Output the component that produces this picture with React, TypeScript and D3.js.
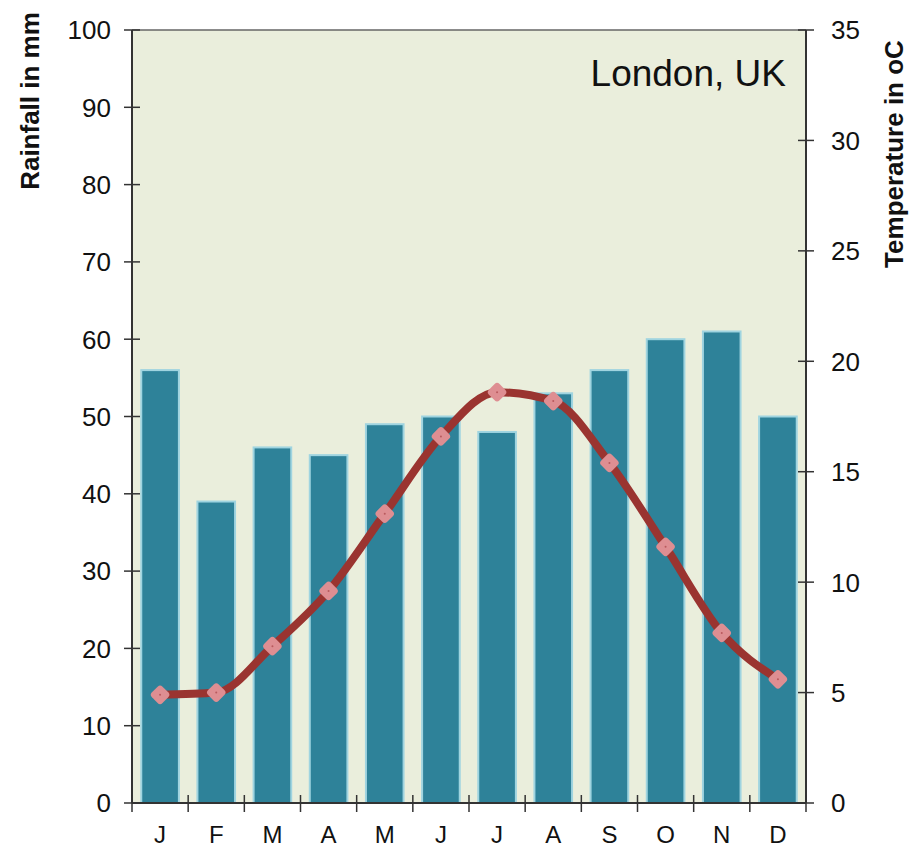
import * as d3 from "d3";
import { useEffect, useRef } from "react";

const months = ["J", "F", "M", "A", "M", "J", "J", "A", "S", "O", "N", "D"];
const rainfall = [56, 39, 46, 45, 49, 50, 48, 53, 56, 60, 61, 50];
const temperature = [4.9, 5.0, 7.1, 9.6, 13.1, 16.6, 18.6, 18.2, 15.4, 11.6, 7.7, 5.6];
const rainTicks = [0, 10, 20, 30, 40, 50, 60, 70, 80, 90, 100];
const tempTicks = [0, 5, 10, 15, 20, 25, 30, 35];

const width = 919;
const height = 848;
const margin = { top: 30, right: 113, bottom: 45, left: 132 };

const App = () => {
  const svgRef = useRef(null);

  useEffect(() => {
    const root = d3.select(svgRef.current);
    root.selectAll("*").remove();

    const innerW = width - margin.left - margin.right;
    const innerH = height - margin.top - margin.bottom;
    const font = "Liberation Sans, Arial, sans-serif";

    const svg = root
      .append("g")
      .attr("transform", `translate(${margin.left}, ${margin.top})`);

    // scales
    const x = d3
      .scaleBand()
      .domain(months.map((_, i) => String(i)))
      .range([0, innerW])
      .paddingInner(0.33)
      .paddingOuter(0.165);
    const xStep = innerW / months.length;
    const yRain = d3.scaleLinear().domain([0, 100]).range([innerH, 0]);
    const yTemp = d3.scaleLinear().domain([0, 35]).range([innerH, 0]);

    // plot background
    svg
      .append("rect")
      .attr("width", innerW)
      .attr("height", innerH)
      .attr("fill", "#eaeedc");

    // bars
    svg
      .selectAll(".bar")
      .data(rainfall)
      .enter()
      .append("rect")
      .attr("class", "bar")
      .attr("x", (_, i) => x(String(i)))
      .attr("y", (d) => yRain(d))
      .attr("width", x.bandwidth())
      .attr("height", (d) => innerH - yRain(d))
      .attr("fill", "#2e8299")
      .attr("stroke", "#9fd4e0")
      .attr("stroke-width", 2);

    // top border
    svg
      .append("line")
      .attr("x1", 0)
      .attr("x2", innerW)
      .attr("y1", 0)
      .attr("y2", 0)
      .attr("stroke", "#666")
      .attr("stroke-width", 1.5);

    // left axis
    const left = svg.append("g");
    left
      .append("line")
      .attr("y1", 0)
      .attr("y2", innerH)
      .attr("stroke", "#333")
      .attr("stroke-width", 2);
    left
      .selectAll("line.tick")
      .data(rainTicks)
      .enter()
      .append("line")
      .attr("class", "tick")
      .attr("x1", -8)
      .attr("x2", 8)
      .attr("y1", (d) => yRain(d))
      .attr("y2", (d) => yRain(d))
      .attr("stroke", "#333")
      .attr("stroke-width", 1.5);
    left
      .selectAll("text")
      .data(rainTicks)
      .enter()
      .append("text")
      .attr("x", -21)
      .attr("y", (d) => yRain(d))
      .attr("dy", "0.36em")
      .attr("text-anchor", "end")
      .attr("font-family", font)
      .attr("font-size", 26)
      .attr("fill", "#111")
      .text((d) => d);

    // right axis
    const right = svg.append("g").attr("transform", `translate(${innerW}, 0)`);
    right
      .append("line")
      .attr("y1", 0)
      .attr("y2", innerH)
      .attr("stroke", "#333")
      .attr("stroke-width", 2);
    right
      .selectAll("line.tick")
      .data(tempTicks)
      .enter()
      .append("line")
      .attr("class", "tick")
      .attr("x1", -8)
      .attr("x2", 8)
      .attr("y1", (d) => yTemp(d))
      .attr("y2", (d) => yTemp(d))
      .attr("stroke", "#333")
      .attr("stroke-width", 1.5);
    right
      .selectAll("text")
      .data(tempTicks)
      .enter()
      .append("text")
      .attr("x", 25)
      .attr("y", (d) => yTemp(d))
      .attr("dy", "0.36em")
      .attr("font-family", font)
      .attr("font-size", 26)
      .attr("fill", "#111")
      .text((d) => d);

    // bottom axis
    const bottom = svg.append("g").attr("transform", `translate(0, ${innerH})`);
    bottom
      .append("line")
      .attr("x1", 0)
      .attr("x2", innerW)
      .attr("stroke", "#333")
      .attr("stroke-width", 2);
    bottom
      .selectAll("line.tick")
      .data(d3.range(months.length + 1))
      .enter()
      .append("line")
      .attr("class", "tick")
      .attr("x1", (d) => d * xStep)
      .attr("x2", (d) => d * xStep)
      .attr("y1", -8)
      .attr("y2", 9)
      .attr("stroke", "#333")
      .attr("stroke-width", 1.5);
    bottom
      .selectAll("text")
      .data(months)
      .enter()
      .append("text")
      .attr("x", (_, i) => x(String(i)) + x.bandwidth() / 2)
      .attr("y", 40)
      .attr("text-anchor", "middle")
      .attr("font-family", font)
      .attr("font-size", 24)
      .attr("fill", "#111")
      .text((d) => d);

    // temperature line
    const cx = (i) => x(String(i)) + x.bandwidth() / 2;
    const line = d3
      .line()
      .x((_, i) => cx(i))
      .y((d) => yTemp(d))
      .curve(d3.curveMonotoneX);
    svg
      .append("path")
      .datum(temperature)
      .attr("d", line)
      .attr("fill", "none")
      .attr("stroke", "#9a3430")
      .attr("stroke-width", 8)
      .attr("stroke-linejoin", "round");

    // markers
    svg
      .selectAll(".marker")
      .data(temperature)
      .enter()
      .append("rect")
      .attr("class", "marker")
      .attr("x", -7.5)
      .attr("y", -7.5)
      .attr("width", 15)
      .attr("height", 15)
      .attr("rx", 3.5)
      .attr("fill", "#de8e92")
      .attr("transform", (d, i) => `translate(${cx(i)}, ${yTemp(d)}) rotate(45)`);
    svg
      .selectAll(".dot")
      .data(temperature)
      .enter()
      .append("circle")
      .attr("cx", (_, i) => cx(i))
      .attr("cy", (d) => yTemp(d))
      .attr("r", 1)
      .attr("fill", "#b85a5e");

    // title
    svg
      .append("text")
      .attr("x", innerW - 20)
      .attr("y", 56)
      .attr("text-anchor", "end")
      .attr("font-family", font)
      .attr("font-size", 37)
      .attr("fill", "#111")
      .text("London, UK");

    // axis titles
    root
      .append("text")
      .attr("transform", `translate(39, 101) rotate(-90)`)
      .attr("text-anchor", "middle")
      .attr("font-family", font)
      .attr("font-size", 26)
      .attr("font-weight", "bold")
      .attr("fill", "#111")
      .text("Rainfall in mm");
    root
      .append("text")
      .attr("transform", `translate(903, 154) rotate(-90)`)
      .attr("text-anchor", "middle")
      .attr("font-family", font)
      .attr("font-size", 26)
      .attr("font-weight", "bold")
      .attr("fill", "#111")
      .text("Temperature in oC");
  }, []);

  return (
    <svg
      ref={svgRef}
      width={width}
      height={height}
      style={{ position: "absolute", left: 0, top: 0, background: "#fff" }}
    ></svg>
  );
};

export default App;
